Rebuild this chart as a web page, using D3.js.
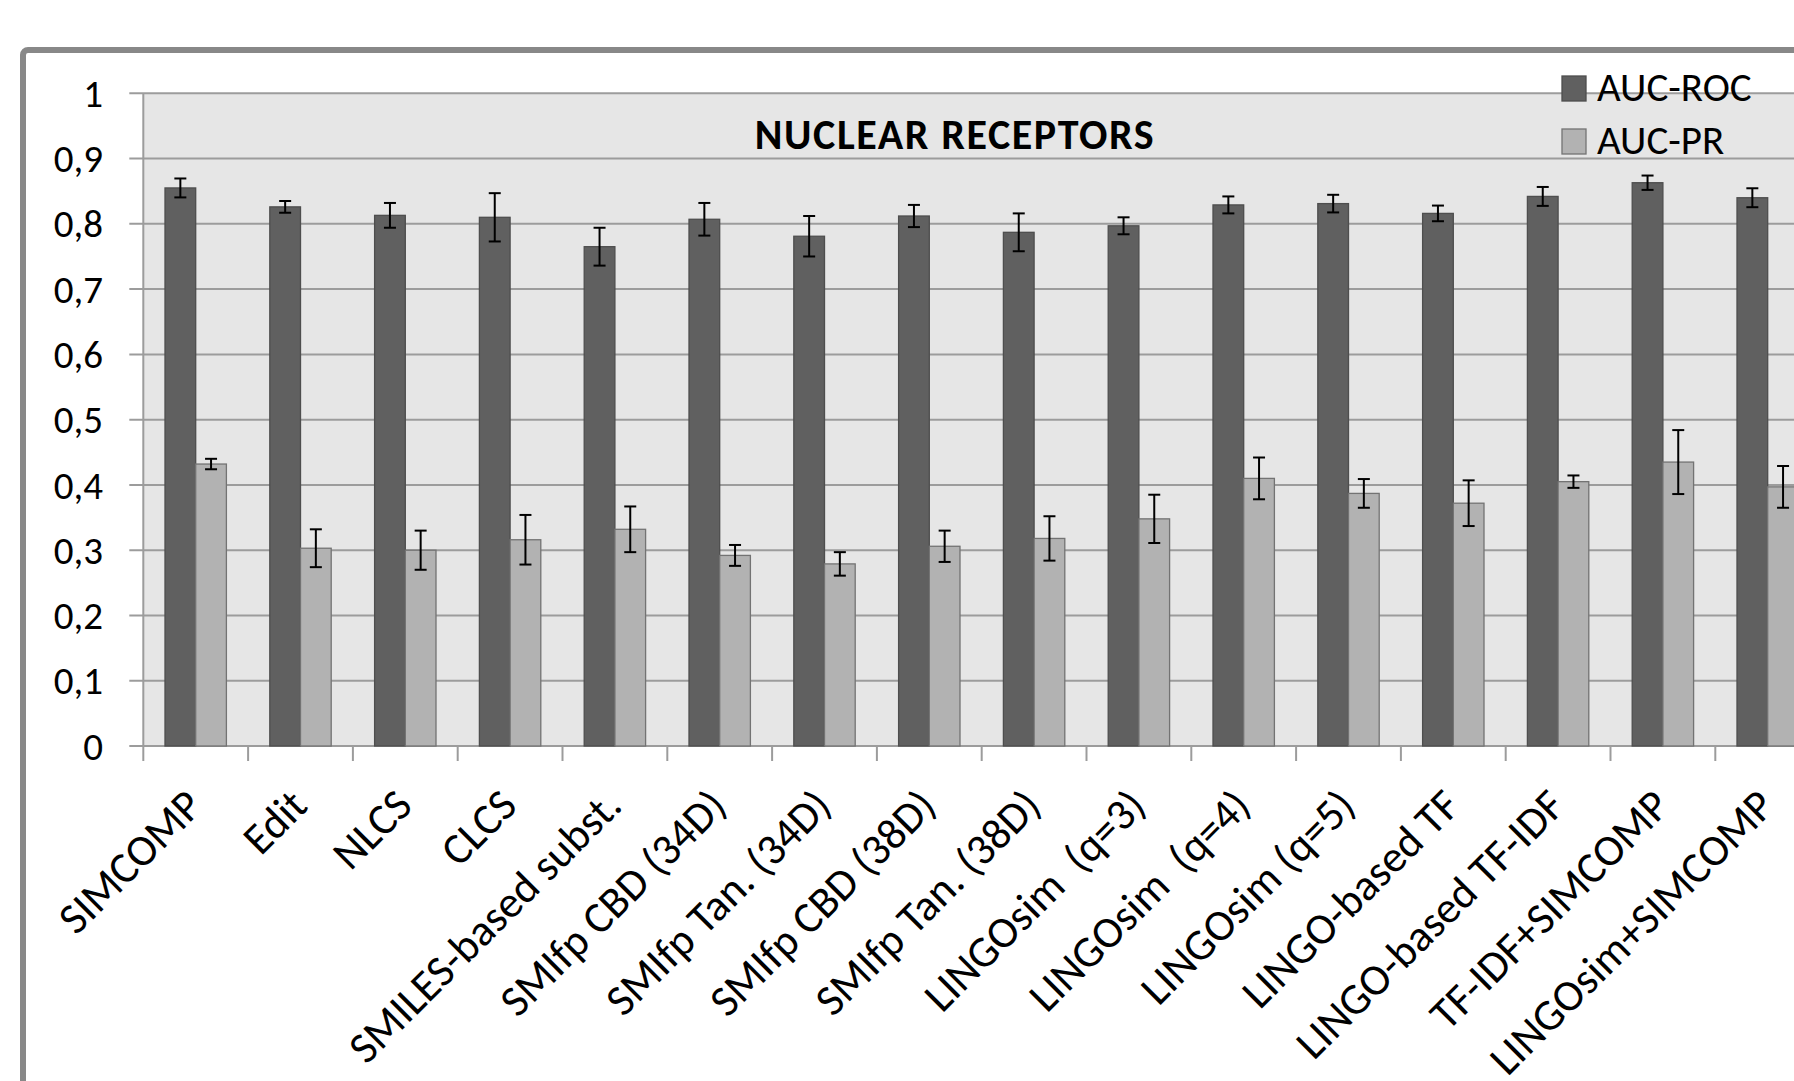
<!DOCTYPE html>
<html>
<head>
<meta charset="utf-8">
<script src="https://cdn.jsdelivr.net/npm/d3@7"></script>
<style>
  html, body { margin: 0; padding: 0; background: #fff; }
  svg { display: block; }
  text { font-family: Carlito, Calibri, Lato, sans-serif; fill: #000; }
</style>
</head>
<body>
<svg id="chart" width="1794" height="1081"></svg>
<script>
/* ── Data ─────────────────────────────────────────────────────────────── */
const categories = [
  'SIMCOMP', 'Edit', 'NLCS', 'CLCS', 'SMILES-based subst.',
  'SMIfp CBD (34D)', 'SMIfp Tan. (34D)', 'SMIfp CBD (38D)', 'SMIfp Tan. (38D)',
  'LINGOsim  (q=3)', 'LINGOsim  (q=4)', 'LINGOsim (q=5)',
  'LINGO-based TF', 'LINGO-based TF-IDF', 'TF-IDF+SIMCOMP', 'LINGOsim+SIMCOMP'
];
const series    = ['AUC-ROC', 'AUC-PR'];
const rocValues = [0.855, 0.826, 0.813, 0.810, 0.765, 0.807, 0.781, 0.812, 0.787, 0.797, 0.829, 0.831, 0.816, 0.842, 0.863, 0.840];
const rocErrors = [0.0145, 0.009, 0.019, 0.037, 0.029, 0.025, 0.031, 0.017, 0.029, 0.013, 0.013, 0.0135, 0.012, 0.0145, 0.011, 0.0145];
const prValues  = [0.432, 0.303, 0.300, 0.316, 0.332, 0.292, 0.279, 0.306, 0.318, 0.348, 0.410, 0.387, 0.372, 0.405, 0.435, 0.397];
const prErrors  = [0.008, 0.029, 0.030, 0.038, 0.035, 0.016, 0.018, 0.024, 0.034, 0.037, 0.032, 0.022, 0.035, 0.0095, 0.049, 0.032];
const yTicks    = [0, 0.1, 0.2, 0.3, 0.4, 0.5, 0.6, 0.7, 0.8, 0.9, 1];
const title     = 'NUCLEAR RECEPTORS';

const COLORS = { 'AUC-ROC': '#606060', 'AUC-PR': '#b2b2b2' };
const STROKE = { 'AUC-ROC': '#4e4e4e', 'AUC-PR': '#737373' };

/* ── Layout ───────────────────────────────────────────────────────────── */
const svg = d3.select('#chart');
const L = 143.3, T = 93.3, B = 746, STEP = 104.8;

const x  = d3.scaleBand().domain(categories).range([L, L + STEP * categories.length]);
const x1 = d3.scaleBand().domain(series).range([0, x.bandwidth()]).paddingOuter(0.707);
const y  = d3.scaleLinear().domain([0, 1]).range([B, T]);

const rows = categories.map((c, i) => ({
  cat: c,
  vals: [
    { s: 'AUC-ROC', v: rocValues[i], e: rocErrors[i] },
    { s: 'AUC-PR',  v: prValues[i],  e: prErrors[i] }
  ]
}));

/* ── Plot background + grid ───────────────────────────────────────────── */
svg.append('rect').attr('x', L).attr('y', T)
   .attr('width', 1794 - L).attr('height', B - T).attr('fill', '#e6e6e6');

svg.append('g').selectAll('line').data(yTicks).join('line')
   .attr('x1', L - 14).attr('x2', 1794)
   .attr('y1', d => y(d)).attr('y2', d => y(d))
   .attr('stroke', '#9c9c9c').attr('stroke-width', 2);

/* ── Bars ─────────────────────────────────────────────────────────────── */
const grp = svg.append('g').selectAll('g').data(rows).join('g')
   .attr('transform', d => `translate(${x(d.cat)},0)`);

grp.selectAll('rect').data(d => d.vals).join('rect')
   .attr('x', d => x1(d.s)).attr('width', x1.bandwidth())
   .attr('y', d => y(d.v)).attr('height', d => y(0) - y(d.v))
   .attr('fill', d => COLORS[d.s]).attr('stroke', d => STROKE[d.s]).attr('stroke-width', 1.3);

/* ── Error bars ───────────────────────────────────────────────────────── */
const eb = grp.selectAll('g.err').data(d => d.vals).join('g').attr('class', 'err')
   .attr('transform', d => `translate(${x1(d.s) + x1.bandwidth() / 2},0)`);
eb.append('line').attr('x1', 0).attr('x2', 0)
   .attr('y1', d => y(d.v + d.e)).attr('y2', d => y(d.v - d.e));
eb.append('line').attr('x1', -6).attr('x2', 6)
   .attr('y1', d => y(d.v + d.e)).attr('y2', d => y(d.v + d.e));
eb.append('line').attr('x1', -6).attr('x2', 6)
   .attr('y1', d => y(d.v - d.e)).attr('y2', d => y(d.v - d.e));
eb.selectAll('line').attr('stroke', '#000').attr('stroke-width', 2);

/* ── Axes ─────────────────────────────────────────────────────────────── */
svg.append('line').attr('x1', L).attr('x2', L).attr('y1', T).attr('y2', B)
   .attr('stroke', '#9c9c9c').attr('stroke-width', 2);

const bounds = categories.map(c => x(c)).concat([x.range()[1]]);
svg.append('g').selectAll('line').data(bounds).join('line')
   .attr('x1', d => d).attr('x2', d => d).attr('y1', B).attr('y2', B + 15)
   .attr('stroke', '#9c9c9c').attr('stroke-width', 2);

const fmtTick = d => (d === 0 || d === 1) ? String(d) : d3.format('.1f')(d).replace('.', ',');
svg.append('g').selectAll('text').data(yTicks).join('text')
   .attr('x', 103).attr('y', d => y(d)).attr('dy', '0.35em')
   .attr('text-anchor', 'end').style('font-size', '39px')
   .text(fmtTick);

svg.append('g').selectAll('text').data(categories).join('text')
   .attr('transform', d => `translate(${x(d) + x.bandwidth() / 2 + 9},808) rotate(-45)`)
   .attr('text-anchor', 'end').style('font-size', '44px').style('white-space', 'pre')
   .text(d => d);

/* ── Title ────────────────────────────────────────────────────────────── */
svg.append('text').attr('x', 955).attr('y', 149)
   .attr('text-anchor', 'middle').style('font-size', '42px').style('font-weight', 'bold')
   .style('letter-spacing', '1.6px')
   .text(title);

/* ── Legend ───────────────────────────────────────────────────────────── */
const lg = svg.append('g').selectAll('g').data(series).join('g')
   .attr('transform', (d, i) => `translate(1562,${76 + i * 53})`);
lg.append('rect').attr('width', 24).attr('height', 25)
   .attr('fill', d => COLORS[d]).attr('stroke', d => STROKE[d]).attr('stroke-width', 1.3);
lg.append('text').attr('x', 35).attr('y', 25).style('font-size', '41px').text(d => d);

/* ── Chart frame ──────────────────────────────────────────────────────── */
svg.append('rect').attr('x', 23).attr('y', 50).attr('width', 2200).attr('height', 2200)
   .attr('rx', 5).attr('fill', 'none').attr('stroke', '#888').attr('stroke-width', 6);
</script>
</body>
</html>
